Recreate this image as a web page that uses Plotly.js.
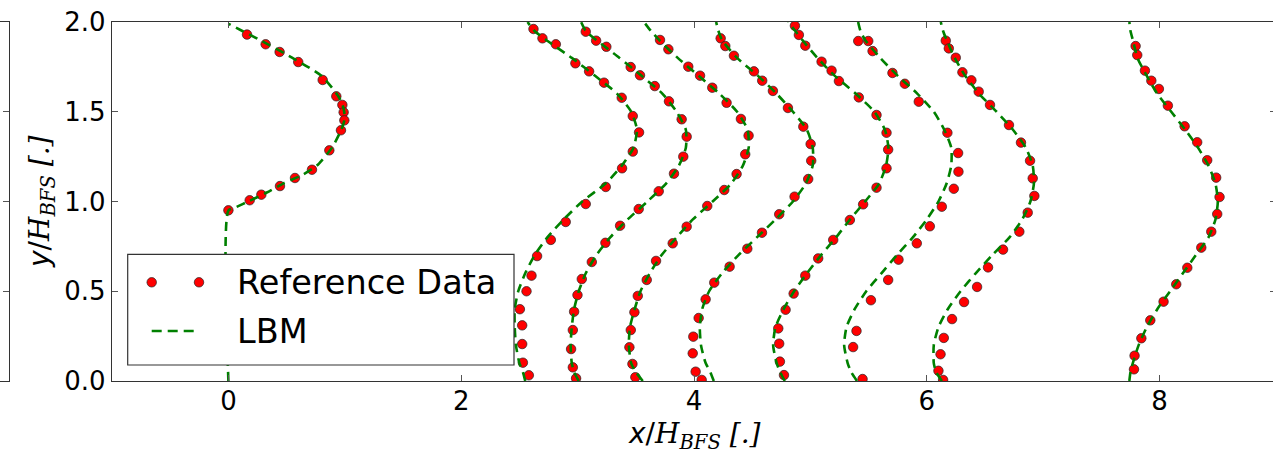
<!DOCTYPE html>
<html>
<head>
<meta charset="utf-8">
<script src="https://cdn.plot.ly/plotly-3.0.1.min.js"></script>
<style>
html,body{margin:0;padding:0;overflow:hidden;background:#fff;}
#chart{width:1280px;height:454px;}
</style>
</head>
<body>
<div id="chart"></div>
<script>
// ---------------- data ----------------
// Reference data profiles (x/H, y/H)
const ref0_x = [0.16,0.32,0.44,0.60,0.81,0.927,0.979,0.99,0.996,0.967,0.867,0.718,0.572,0.443,0.283,0.183,0.0];
const ref0_y = [1.93,1.876,1.833,1.777,1.677,1.586,1.538,1.497,1.452,1.397,1.285,1.177,1.131,1.086,1.038,1.007,0.951];

const refA_x = [2.621,2.698,2.813,2.981,3.099,3.227,3.379,3.474,3.528,3.474,3.382,3.242,3.07,2.898,2.77,2.652,2.604,2.561,2.504,2.524,2.524,2.53,2.581];
const refA_y = [1.961,1.909,1.876,1.77,1.725,1.662,1.578,1.476,1.385,1.278,1.185,1.081,0.986,0.886,0.786,0.696,0.587,0.50,0.40,0.31,0.206,0.102,0.032];

const refB_x = [3.07,3.159,3.247,3.456,3.536,3.663,3.785,3.894,3.937,3.908,3.828,3.697,3.525,3.365,3.239,3.122,3.036,2.999,2.97,2.959,2.944,2.959,2.987];
const refB_y = [1.946,1.896,1.862,1.749,1.703,1.643,1.558,1.458,1.361,1.25,1.155,1.057,0.958,0.865,0.77,0.663,0.568,0.479,0.386,0.284,0.178,0.076,0.015];

const refC_x = [3.708,3.78,3.951,4.052,4.157,4.28,4.403,4.469,4.44,4.366,4.26,4.114,3.937,3.817,3.674,3.594,3.517,3.488,3.457,3.445,3.471,3.496];
const refC_y = [1.90,1.848,1.751,1.701,1.634,1.55,1.46,1.367,1.263,1.153,1.064,0.975,0.86,0.767,0.669,0.563,0.474,0.383,0.284,0.188,0.095,0.021];

const refD_x = [4.229,4.269,4.343,4.515,4.586,4.678,4.807,4.939,5.002,5.007,4.981,4.864,4.732,4.584,4.458,4.306,4.174,4.1,4.04,3.994,3.989,4.014,4.066];
const refD_y = [1.909,1.866,1.812,1.725,1.673,1.616,1.521,1.417,1.32,1.227,1.125,1.027,0.929,0.826,0.737,0.637,0.548,0.455,0.351,0.247,0.154,0.052,0.006];

const refE_x = [4.867,4.901,4.956,5.096,5.182,5.245,5.416,5.568,5.654,5.668,5.654,5.568,5.453,5.339,5.196,5.067,4.956,4.856,4.787,4.724,4.732,4.738,4.773];
const refE_y = [1.979,1.928,1.868,1.779,1.729,1.671,1.58,1.482,1.383,1.289,1.185,1.077,0.984,0.897,0.786,0.683,0.587,0.487,0.397,0.293,0.208,0.108,0.033];

const refF_x = [5.411,5.497,5.534,5.705,5.811,5.931,6.177,6.269,6.272,6.232,6.129,6.026,5.914,5.757,5.668,5.52,5.396,5.367,5.448];
const refF_y = [1.894,1.894,1.838,1.716,1.656,1.556,1.383,1.27,1.166,1.071,0.971,0.862,0.767,0.676,0.563,0.45,0.279,0.189,0.011];

const refG_x = [6.163,6.189,6.249,6.306,6.383,6.446,6.543,6.706,6.809,6.887,6.91,6.924,6.867,6.795,6.655,6.526,6.432,6.32,6.217,6.146,6.118,6.1,6.14];
const refG_y = [1.896,1.853,1.801,1.72,1.675,1.612,1.538,1.426,1.328,1.227,1.129,1.031,0.938,0.832,0.732,0.633,0.524,0.44,0.345,0.24,0.149,0.057,0.006];

const refH_x = [7.794,7.808,7.874,7.929,7.994,8.071,8.215,8.323,8.409,8.486,8.515,8.495,8.444,8.358,8.238,8.143,8.034,7.92,7.843,7.785,7.78];
const refH_y = [1.866,1.816,1.729,1.673,1.627,1.534,1.419,1.33,1.23,1.133,1.025,0.93,0.832,0.743,0.631,0.539,0.442,0.338,0.238,0.141,0.065];

// LBM profiles
const lbm0_y = [0, 0.95, 0.97, 1.0, 1.05, 1.1, 1.15, 1.2, 1.3, 1.4, 1.45, 1.5, 1.55, 1.6, 1.7, 1.8, 1.9, 1.95, 1.99];
const lbm0_x = [0, 0, 0.07, 0.17, 0.33, 0.47, 0.64, 0.76, 0.89, 0.97, 0.995, 0.995, 0.975, 0.93, 0.80, 0.55, 0.27, 0.12, 0.0];

const lbm_y  = [0, 0.05, 0.1, 0.2, 0.3, 0.4, 0.5, 0.6, 0.7, 0.8, 0.9, 1.0, 1.1, 1.2, 1.3, 1.4, 1.5, 1.6, 1.7, 1.8, 1.9, 1.95, 2.0];
const lbmA_x = [2.55,2.53,2.50,2.47,2.46,2.46,2.49,2.55,2.63,2.74,2.88,3.04,3.24,3.38,3.48,3.51,3.46,3.34,3.15,2.95,2.73,2.63,2.57];
const lbmB_x = [3.01,2.97,2.95,2.94,2.95,2.97,3.01,3.07,3.16,3.28,3.43,3.60,3.76,3.87,3.93,3.93,3.85,3.73,3.55,3.36,3.16,3.07,3.03];
const lbmC_x = [3.56,3.50,3.46,3.44,3.45,3.49,3.54,3.62,3.72,3.85,3.99,4.16,4.32,4.42,4.47,4.46,4.37,4.22,4.04,3.86,3.70,3.63,3.57];
const lbmD_x = [4.17,4.14,4.10,4.06,4.05,4.07,4.13,4.24,4.38,4.54,4.70,4.85,4.96,5.02,5.02,4.97,4.85,4.71,4.55,4.37,4.24,4.21,4.19];
const lbmE_x = [4.78,4.74,4.71,4.68,4.70,4.77,4.86,4.97,5.09,5.22,5.34,5.47,5.59,5.65,5.67,5.64,5.55,5.39,5.21,5.06,4.93,4.87,4.81];
const lbmF_x = [5.40,5.35,5.32,5.29,5.31,5.38,5.48,5.61,5.74,5.88,6.00,6.10,6.17,6.21,6.21,6.15,6.06,5.92,5.75,5.60,5.47,5.43,5.41];
const lbmG_x = [6.13,6.08,6.06,6.06,6.10,6.18,6.29,6.42,6.56,6.71,6.82,6.89,6.92,6.91,6.85,6.74,6.60,6.45,6.33,6.24,6.17,6.14,6.12];
const lbmH_x = [7.74,7.75,7.77,7.82,7.89,7.98,8.09,8.20,8.31,8.42,8.48,8.50,8.48,8.42,8.33,8.22,8.10,7.98,7.89,7.81,7.77,7.75,7.74];

const xTicks = [0, 2, 4, 6, 8];
const yTicks = [0, 0.5, 1.0, 1.5, 2.0];
const yTickText = ['0.0', '0.5', '1.0', '1.5', '2.0'];
const legendNames = ['Reference Data', 'LBM'];

// ---------------- traces ----------------
const refSets = [[ref0_x,ref0_y],[refA_x,refA_y],[refB_x,refB_y],[refC_x,refC_y],[refD_x,refD_y],
                 [refE_x,refE_y],[refF_x,refF_y],[refG_x,refG_y],[refH_x,refH_y]];
const lbmSets = [[lbm0_x,lbm0_y],[lbmA_x,lbm_y],[lbmB_x,lbm_y],[lbmC_x,lbm_y],[lbmD_x,lbm_y],
                 [lbmE_x,lbm_y],[lbmF_x,lbm_y],[lbmG_x,lbm_y],[lbmH_x,lbm_y]];

const RED = '#ff0000', GREEN = '#008000';
const traces = [];
refSets.forEach(s => traces.push({
  type:'scatter', mode:'markers', x:s[0], y:s[1], showlegend:false, hoverinfo:'skip',
  marker:{color:RED, size:9.5, line:{color:'#222', width:0.7}}
}));
lbmSets.forEach(s => traces.push({
  type:'scatter', mode:'lines', x:s[0], y:s[1], showlegend:false, hoverinfo:'skip',
  line:{color:GREEN, width:2.6, dash:'9px,6px', shape:'spline', smoothing:0.6}
}));
// neighbouring (cropped) panel frame
traces.push({type:'scatter', x:[], y:[], xaxis:'x2', yaxis:'y2', showlegend:false});

const W = 1276; // plot width in px (margin l=0, r=4)
const H0 = 22, PH = 359;
const px = v => v / W;
const py = v => 1 - (v - H0) / PH;

const FONT = 'DejaVu Sans';
const shapes = [
  // legend box
  {type:'rect', xref:'paper', yref:'paper', x0:px(127.7), x1:px(514), y0:py(365), y1:py(254.3),
   fillcolor:'#ffffff', line:{color:'#333', width:1.2}, layer:'above'},
  {type:'circle', xref:'paper', yref:'paper', xsizemode:'pixel', ysizemode:'pixel',
   xanchor:px(151.7), yanchor:py(282.3), x0:-4.75, x1:4.75, y0:-4.75, y1:4.75,
   fillcolor:RED, line:{color:'#222', width:0.7}},
  {type:'circle', xref:'paper', yref:'paper', xsizemode:'pixel', ysizemode:'pixel',
   xanchor:px(199), yanchor:py(282.3), x0:-4.75, x1:4.75, y0:-4.75, y1:4.75,
   fillcolor:RED, line:{color:'#222', width:0.7}},
  {type:'line', xref:'paper', yref:'paper', x0:px(151.7), x1:px(194), y0:py(331), y1:py(331),
   line:{color:GREEN, width:2.6, dash:'10px,6px'}}
];

const annotations = [
  {xref:'paper', yref:'paper', x:px(235), y:py(282), xanchor:'left', yanchor:'middle', showarrow:false,
   text:legendNames[0], font:{family:FONT, size:33.5, color:'#000'}},
  {xref:'paper', yref:'paper', x:px(235), y:py(331), xanchor:'left', yanchor:'middle', showarrow:false,
   text:legendNames[1], font:{family:FONT, size:33.5, color:'#000'}},
  {xref:'paper', yref:'paper', x:px(694), y:py(435), xanchor:'center', yanchor:'middle', showarrow:false,
   text:'<i>x</i>/<span style="font-family:DejaVu Serif"><i>H</i><sub><i>BFS</i></sub> <i>[.]</i></span>',
   font:{family:FONT, size:28, color:'#000'}},
  {xref:'paper', yref:'paper', x:px(41), y:py(202), xanchor:'center', yanchor:'middle', showarrow:false, textangle:-90,
   text:'<i>y</i>/<span style="font-family:DejaVu Serif"><i>H</i><sub><i>BFS</i></sub> <i>[.]</i></span>',
   font:{family:FONT, size:28, color:'#000'}}
];

const layout = {
  width:1280, height:454,
  margin:{l:0, r:4, t:22, b:73, pad:0},
  paper_bgcolor:'#fff', plot_bgcolor:'#fff',
  showlegend:false,
  xaxis:{domain:[112/W, 1], range:[-1, 9], tickvals:xTicks, ticks:'inside', ticklen:6, tickwidth:1, tickcolor:'#555',
         showline:true, linecolor:'#333', linewidth:1.3, mirror:'ticks', showgrid:false, zeroline:false,
         ticklabelstandoff:-4,
         tickfont:{family:FONT, size:26, color:'#000'}, anchor:'y'},
  yaxis:{domain:[0,1], range:[0, 2], tickvals:yTicks, ticktext:yTickText, ticks:'inside', ticklen:6, tickwidth:1, tickcolor:'#555',
         showline:true, linecolor:'#333', linewidth:1.3, mirror:'ticks', showgrid:false, zeroline:false,
         tickfont:{family:FONT, size:26, color:'#000'}, anchor:'x'},
  xaxis2:{domain:[0, 9/W], range:[0,1], anchor:'y2', showline:true, linecolor:'#333', linewidth:1.3, mirror:true,
          ticks:'', showticklabels:false, showgrid:false, zeroline:false},
  yaxis2:{domain:[0,1], range:[0,2], anchor:'x2', side:'right', showline:true, linecolor:'#333', linewidth:1.3,
          tickvals:yTicks, ticks:'inside', ticklen:6, tickcolor:'#555', showticklabels:false, showgrid:false, zeroline:false},
  shapes:shapes,
  annotations:annotations
};

Plotly.newPlot('chart', traces, layout, {staticPlot:true, displayModeBar:false});
</script>
</body>
</html>
